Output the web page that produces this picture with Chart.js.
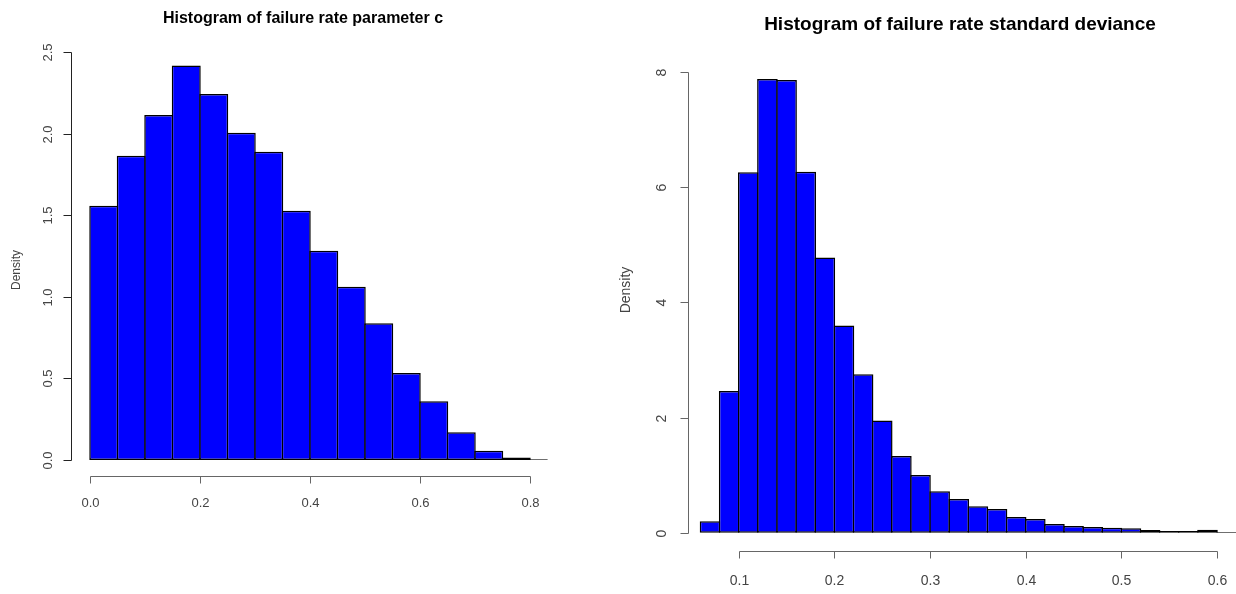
<!DOCTYPE html>
<html>
<head>
<meta charset="utf-8">
<script src="https://cdn.jsdelivr.net/npm/chart.js@4.4.1/dist/chart.umd.min.js"></script>
<style>
  body { margin: 0; background: #fff; }
  #wrap { position: relative; width: 1236px; height: 594px; }
  canvas { position: absolute; top: 0; }
</style>
</head>
<body>
<div id="wrap">
  <canvas id="paramChart" width="618" height="594" style="left:0"></canvas>
  <canvas id="sdChart" width="618" height="594" style="left:618px"></canvas>
</div>
<script>
// failure rate parameter c, bins of width 0.05 (left edges)
const paramBreaks = [0, 0.05, 0.10, 0.15, 0.20, 0.25, 0.30, 0.35, 0.40, 0.45, 0.50, 0.55, 0.60, 0.65, 0.70, 0.75, 0.80];
const paramDensity = [1.559, 1.866, 2.116, 2.419, 2.245, 2.007, 1.891, 1.529, 1.283, 1.062, 0.839, 0.534, 0.360, 0.170, 0.057, 0.016, 0.004];
const paramXTicks = [0, 0.2, 0.4, 0.6, 0.8];
const paramYTicks = [0, 0.5, 1.0, 1.5, 2.0, 2.5];

// failure rate standard deviance, bins of width 0.02 (left edges)
const sdBreaks = [0.06, 0.08, 0.10, 0.12, 0.14, 0.16, 0.18, 0.20, 0.22, 0.24, 0.26, 0.28, 0.30, 0.32,
                  0.34, 0.36, 0.38, 0.40, 0.42, 0.44, 0.46, 0.48, 0.50, 0.52, 0.54, 0.56, 0.58, 0.60];
const sdDensity = [0.20, 2.46, 6.26, 7.88, 7.86, 6.27, 4.78, 3.60, 2.75, 1.95, 1.33, 1.00, 0.72, 0.585,
                   0.46, 0.41, 0.272, 0.237, 0.151, 0.116, 0.099, 0.084, 0.078, 0.048, 0.030, 0.030, 0.052, 0.012];
const sdXTicks = [0.1, 0.2, 0.3, 0.4, 0.5, 0.6];
const sdYTicks = [0, 2, 4, 6, 8];

const toPoints = (breaks, density) => {
    const w = breaks[1] - breaks[0];
    return breaks.map((b, i) => ({ x: b + w / 2, y: density[i] }));
};

// base-graphics style axes: lines only span the tick range, labels on the y axis rotated
const rAxes = {
    id: 'rAxes',
    afterDraw(chart, args, opts) {
        const { ctx, chartArea, scales: { x, y } } = chart;
        ctx.save();
        ctx.lineWidth = 1;
        ctx.strokeStyle = opts.lineColor;
        ctx.fillStyle = opts.textColor;
        ctx.font = opts.tickFont;
        ctx.textAlign = 'center';
        ctx.textBaseline = 'middle';

        const xa = Math.round(chartArea.bottom) + 0.5;
        const xs = opts.xTicks.map(v => Math.round(x.getPixelForValue(v)) + 0.5);
        ctx.beginPath();
        ctx.moveTo(xs[0], xa);
        ctx.lineTo(xs[xs.length - 1], xa);
        xs.forEach(px => { ctx.moveTo(px, xa); ctx.lineTo(px, xa + 7); });
        ctx.stroke();
        opts.xTicks.forEach((v, i) => ctx.fillText(v.toFixed(opts.xDigits), xs[i], xa + opts.xLabelGap));

        const ya = Math.round(chartArea.left) - 0.5;
        const ys = opts.yTicks.map(v => Math.round(y.getPixelForValue(v)) + 0.5);
        ctx.strokeStyle = opts.yLineColor;
        ctx.beginPath();
        ctx.moveTo(ya, ys[0]);
        ctx.lineTo(ya, ys[ys.length - 1]);
        ys.forEach(py => { ctx.moveTo(ya, py); ctx.lineTo(ya - 8, py); });
        ctx.stroke();
        opts.yTicks.forEach((v, i) => {
            ctx.save();
            ctx.translate(ya - opts.yLabelGap, ys[i]);
            ctx.rotate(-Math.PI / 2);
            ctx.fillText(v.toFixed(opts.yDigits), 0, 0);
            ctx.restore();
        });

        // axis title
        ctx.font = opts.yTitleFont;
        ctx.save();
        ctx.translate(opts.yTitlePos[0], opts.yTitlePos[1]);
        ctx.rotate(-Math.PI / 2);
        ctx.fillText('Density', 0, 0);
        ctx.restore();

        // main title
        ctx.fillStyle = '#000';
        ctx.font = opts.titleFont;
        ctx.textBaseline = 'alphabetic';
        ctx.fillText(opts.title, opts.titlePos[0], opts.titlePos[1]);
        ctx.restore();
    }
};

// neighbouring bars overlap by one border width so each separator is a single line
const barStyle = {
    backgroundColor: '#0000ff',
    borderColor: '#000000',
    borderWidth: 1.5,
    borderSkipped: false,
    inflateAmount: 0,
    categoryPercentage: 1,
    clip: 0
};

const paramConfig = {
    type: 'bar',
    data: {
        datasets: [{ ...barStyle, data: toPoints(paramBreaks, paramDensity), barPercentage: 1.0545 }]
    },
    options: {
        responsive: false,
        animation: false,
        layout: { padding: { left: 72.4, right: 70.4, top: 36.1, bottom: 117.7 } },
        scales: {
            x: { type: 'linear', display: false, offset: false, min: -0.032, max: 0.832 },
            y: { display: false, min: -0.1, max: 2.6 }
        },
        plugins: {
            legend: { display: false },
            tooltip: { enabled: false },
            rAxes: {
                xTicks: paramXTicks, yTicks: paramYTicks, xDigits: 1, yDigits: 1,
                lineColor: '#666', yLineColor: '#222', textColor: '#444',
                tickFont: '13px "Liberation Sans", Arial, sans-serif',
                xLabelGap: 26.5, yLabelGap: 23,
                yTitleFont: '12px "Liberation Sans", Arial, sans-serif', yTitlePos: [17, 270],
                title: 'Histogram of failure rate parameter c',
                titleFont: 'bold 16px "Liberation Sans", Arial, sans-serif', titlePos: [303, 23]
            }
        }
    },
    plugins: [rAxes]
};

const sdConfig = {
    type: 'bar',
    data: {
        datasets: [{ ...barStyle, data: toPoints(sdBreaks, sdDensity), barPercentage: 1.078 }]
    },
    options: {
        responsive: false,
        animation: false,
        layout: { padding: { left: 70.7, right: 0, top: 53.6, bottom: 42.9 } },
        scales: {
            x: { type: 'linear', display: false, offset: false, min: 0.0477, max: 0.6198 },
            y: { display: false, min: -0.32, max: 8.32 }
        },
        plugins: {
            legend: { display: false },
            tooltip: { enabled: false },
            rAxes: {
                xTicks: sdXTicks, yTicks: sdYTicks, xDigits: 1, yDigits: 0,
                lineColor: '#666', yLineColor: '#666', textColor: '#444',
                tickFont: '14px "Liberation Sans", Arial, sans-serif',
                xLabelGap: 30, yLabelGap: 26,
                yTitleFont: '14px "Liberation Sans", Arial, sans-serif', yTitlePos: [8, 290],
                title: 'Histogram of failure rate standard deviance',
                titleFont: 'bold 19px "Liberation Sans", Arial, sans-serif', titlePos: [342, 30]
            }
        }
    },
    plugins: [rAxes]
};

new Chart(document.getElementById('paramChart').getContext('2d'), paramConfig);
new Chart(document.getElementById('sdChart').getContext('2d'), sdConfig);
</script>
</body>
</html>
